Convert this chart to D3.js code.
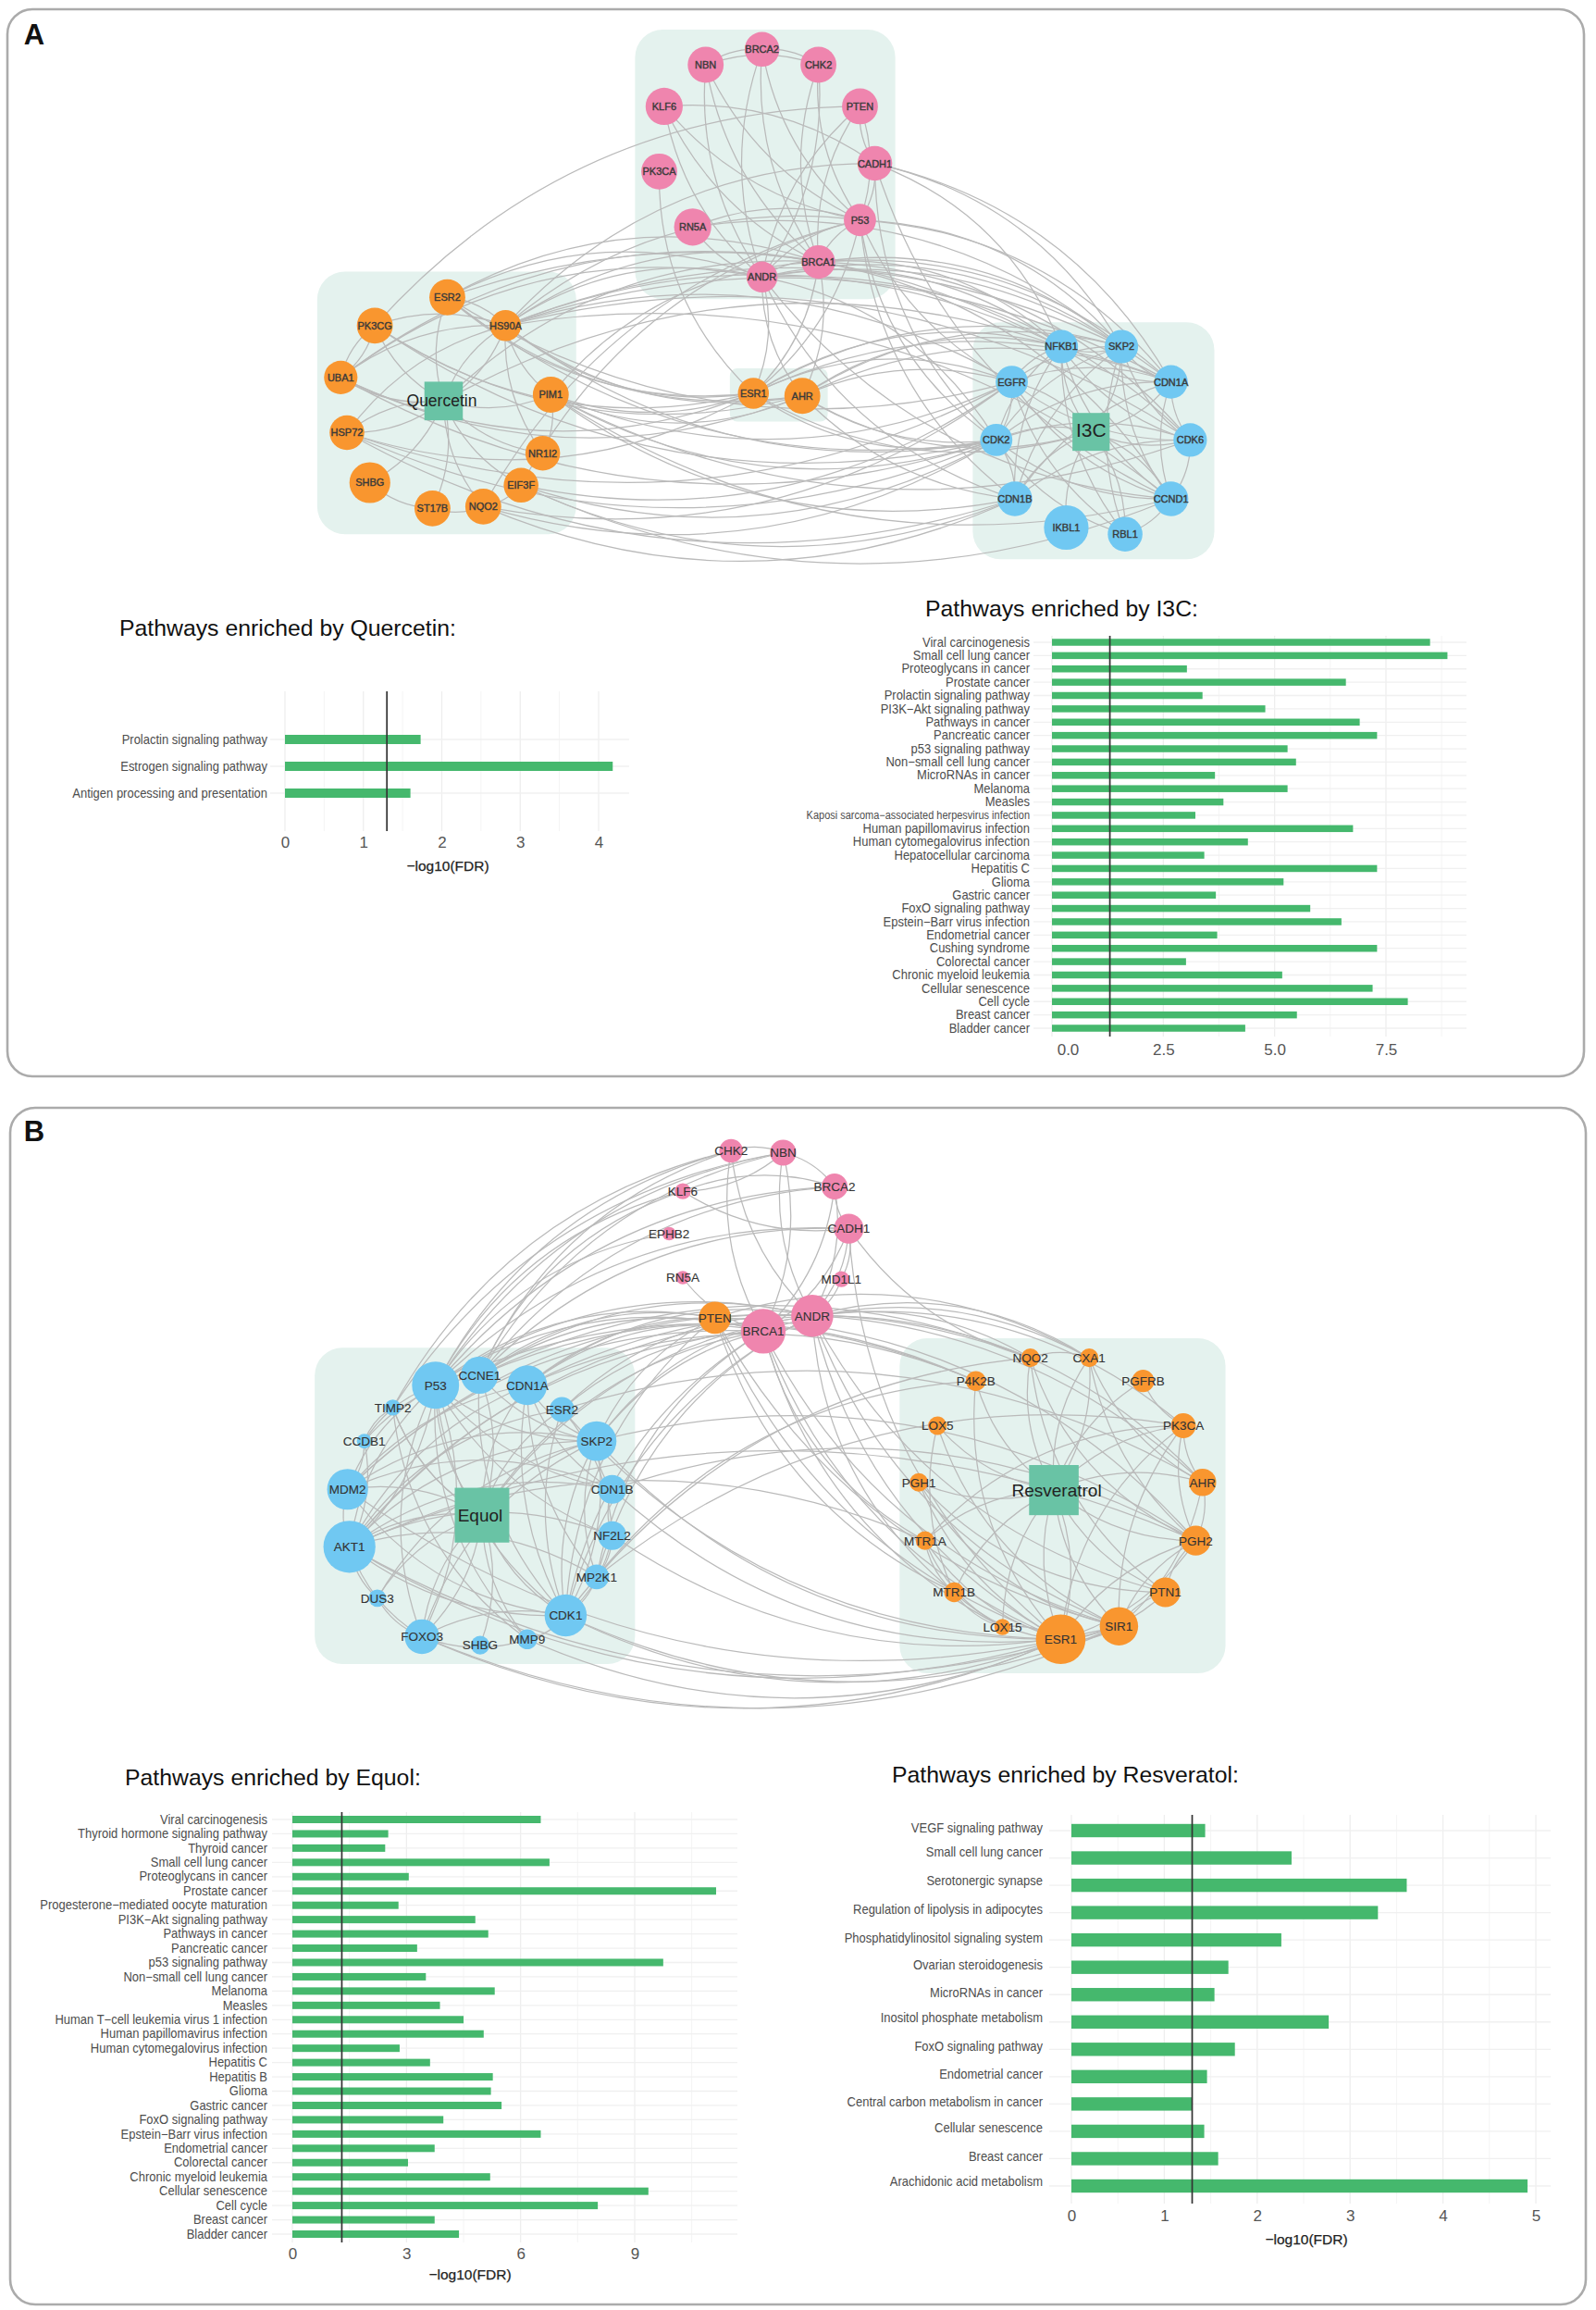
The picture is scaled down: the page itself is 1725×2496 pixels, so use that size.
<!DOCTYPE html>
<html><head><meta charset="utf-8">
<script src="https://cdn.jsdelivr.net/npm/d3@7"></script>
<style>html,body{margin:0;padding:0;background:#fff}svg{display:block}text{font-family:"Liberation Sans",Arial,sans-serif}</style>
</head><body><div id="c"></div>
<script>
// ---------- DATA : network A (layout units, name x y r)
const pinkA = [["BRCA2",782,138,28],["NBN",691,180,29],["CHK2",873,180,29],["KLF6",624,293,30],["PTEN",940,293,29],["PK3CA",616,470,29],["CADH1",964,448,28],["RN5A",670,621,30],["P53",940,602,26],["BRCA1",873,716,27],["ANDR",782,757,25]];
const orangeA = [["ESR2",274,812,29],["PK3CG",157,889,29],["HS90A",368,889,25],["UBA1",102,1030,27],["PIM1",441,1077,29],["HSP72",112,1180,28],["NR1I2",428,1236,28],["EIF3F",393,1323,28],["SHBG",149,1316,33],["ST17B",250,1386,29],["NQO2",332,1381,29],["ESR1",768,1073,25],["AHR",847,1080,29]];
const blueA = [["NFKB1",1265,946,27],["SKP2",1362,946,27],["EGFR",1185,1042,26],["CDN1A",1442,1042,27],["CDK2",1160,1200,26],["CDK6",1473,1200,27],["CDN1B",1190,1360,28],["CCND1",1442,1360,28],["IKBL1",1273,1438,36],["RBL1",1368,1456,28]];
const drugsA = [["Quercetin",268,1094,62,105],["I3C",1313,1178,60,103]];
const boxesA = [[577,84,997,817],[64,742,482,1456],[730,1005,888,1150],[1122,880,1512,1524]];
const edgesAUp = ["HS90A ANDR","HS90A BRCA1","HS90A P53","HS90A CADH1","HS90A NFKB1","HS90A SKP2","HS90A CDN1A","HS90A EGFR","HS90A CCND1","HS90A CDK6","ESR2 ANDR","ESR2 BRCA1","ESR2 NFKB1","ESR2 HS90A","PK3CG PTEN","PK3CG HS90A","UBA1 HS90A","UBA1 ANDR","UBA1 BRCA1","UBA1 PK3CG","HSP72 HS90A","HSP72 Quercetin","Quercetin HS90A","Quercetin ESR2","Quercetin NFKB1","Quercetin BRCA1","ANDR NFKB1","ANDR SKP2","ANDR CDN1A","BRCA1 NFKB1","BRCA1 SKP2","BRCA1 CDN1A","BRCA1 CDK6","BRCA1 CCND1","ANDR CDK6","ANDR CDK2","ANDR BRCA1","ANDR P53","BRCA1 P53","RN5A P53","RN5A SKP2","P53 SKP2","P53 CDN1A","CADH1 SKP2","CADH1 CDN1A","CADH1 NFKB1","KLF6 CADH1","NBN BRCA2","BRCA2 CHK2","NBN CHK2","ESR1 NFKB1","ESR1 SKP2","ESR1 EGFR","ESR1 CDN1A","AHR NFKB1","AHR SKP2","AHR EGFR","AHR CDN1A","CDK2 NFKB1","CDK2 SKP2","CDK2 CDN1A","CDK2 CDK6","CDK2 I3C","EGFR NFKB1","EGFR CDN1A","EGFR SKP2","EGFR I3C","CDN1B I3C","CDN1B CDK6","CDN1B CDN1A","CDN1B NFKB1","CDN1B SKP2","EIF3F P53","NQO2 P53","PIM1 BRCA1","PTEN ANDR","PTEN BRCA1","PTEN P53","CCND1 I3C","CDK2 CDN1B","IKBL1 I3C","RBL1 I3C"];
const edgesADown = ["PIM1 ESR1","PIM1 AHR","PIM1 CDK2","PIM1 EGFR","PIM1 CDN1B","PIM1 CCND1","PIM1 CDK6","PIM1 HS90A","HSP72 ESR1","HSP72 EGFR","HSP72 CDK2","HSP72 CDN1B","EIF3F CDK2","EIF3F EGFR","EIF3F CCND1","EIF3F CDN1B","NQO2 CDK2","NQO2 EGFR","NQO2 CDN1B","ST17B NQO2","SHBG ST17B","NQO2 EIF3F","NR1I2 PIM1","HS90A NR1I2","HS90A ESR1","HS90A AHR","HS90A CDK2","HS90A Quercetin","PK3CG ESR1","PK3CG AHR","PK3CG CDK2","PK3CG UBA1","UBA1 AHR","UBA1 ESR1","UBA1 CDK2","UBA1 Quercetin","ESR2 CDK2","ESR2 EGFR","ESR2 ESR1","ESR2 AHR","Quercetin EIF3F","Quercetin NR1I2","Quercetin PIM1","Quercetin SHBG","Quercetin ST17B","Quercetin NQO2","PK3CG Quercetin","HSP72 Quercetin","BRCA1 ESR1","BRCA1 AHR","ANDR ESR1","ANDR AHR","ANDR CDN1B","ANDR CCND1","P53 ESR1","P53 CDK2","P53 EGFR","P53 CDN1B","CADH1 CDK2","CADH1 CCND1","PK3CA ESR1","RN5A ANDR","KLF6 BRCA1","KLF6 P53","KLF6 ANDR","NBN BRCA1","NBN ANDR","NBN P53","BRCA2 BRCA1","BRCA2 P53","BRCA2 ANDR","CHK2 P53","CHK2 BRCA1","CHK2 ANDR","PTEN CADH1","CADH1 P53","AHR CDK2","AHR CDN1B","AHR I3C","ESR1 CDK2","ESR1 I3C","NFKB1 I3C","NFKB1 CCND1","NFKB1 RBL1","NFKB1 CDK6","NFKB1 CDN1A","NFKB1 SKP2","SKP2 I3C","SKP2 CDK6","SKP2 CDN1A","SKP2 CCND1","SKP2 RBL1","CDN1A I3C","CDN1A CDK6","CDN1A CCND1","CDK6 I3C","CDK6 CCND1","CCND1 RBL1","CDK2 CCND1","CDK2 RBL1","EGFR CCND1","EGFR CDK2","EGFR RBL1","EGFR CDK6"];

// ---------- DATA : network B
const pinkB = [["CHK2",732,85,19],["NBN",816,90,21],["BRCA2",899,178,21],["KLF6",654,190,13],["CADH1",922,287,24],["EPHB2",632,300,11],["RN5A",654,414,11],["MD1L1",910,418,13],["ANDR",863,513,34],["BRCA1",784,553,36]];
const orangeB = [["PTEN",706,518,26],["NQO2",1215,622,15],["CXA1",1310,622,15],["P4K2B",1127,682,16],["PGFRB",1397,682,18],["LOX5",1065,798,15],["PK3CA",1462,798,20],["PGH1",1035,945,15],["AHR",1493,945,22],["MTR1A",1045,1096,15],["PGH2",1482,1096,24],["MTR1B",1092,1230,16],["PTN1",1433,1230,24],["LOX15",1170,1320,13],["SIR1",1358,1318,31],["ESR1",1264,1352,40]];
const blueB = [["P53",255,693,38],["CCNE1",326,667,30],["CDN1A",403,693,32],["TIMP2",186,751,13],["ESR2",459,756,20],["CCDB1",140,838,12],["SKP2",515,838,32],["MDM2",113,963,33],["CDN1B",540,963,23],["NF2L2",540,1083,23],["AKT1",116,1112,42],["MP2K1",515,1190,20],["DUS3",161,1245,14],["CDK1",465,1290,34],["FOXO3",233,1345,28],["SHBG",327,1367,15],["MMP9",403,1352,16]];
const drugsB = [["Equol",330,1030,88,142],["Resveratrol",1253,965,80,130]];
const boxesB = [[60,596,577,1416],[1004,571,1530,1440]];
const edgesBUp = ["P53 CHK2","P53 NBN","CCNE1 CHK2","CCNE1 NBN","TIMP2 CHK2","TIMP2 NBN","P53 BRCA2","P53 KLF6","CCNE1 KLF6","CCNE1 BRCA2","P53 CADH1","CCNE1 CADH1","P53 EPHB2","P53 BRCA1","P53 ANDR","P53 PTEN","CCNE1 BRCA1","CCNE1 ANDR","CCNE1 PTEN","CDN1A BRCA1","CDN1A ANDR","CDN1A PTEN","MDM2 BRCA1","MDM2 ANDR","AKT1 ANDR","AKT1 BRCA1","AKT1 SKP2","AKT1 CDN1A","AKT1 ESR2","AKT1 P53","MDM2 P53","MDM2 SKP2","MDM2 CDN1A","CCDB1 P53","CCDB1 CCNE1","CCDB1 TIMP2","AKT1 Equol","AKT1 CDN1B","AKT1 NF2L2","AKT1 MP2K1","MDM2 CDN1B","MDM2 Equol","DUS3 SKP2","DUS3 Equol","FOXO3 CDK1","FOXO3 Equol","FOXO3 SKP2","FOXO3 P53","CDK1 BRCA1","CDK1 ANDR","CDK1 PTEN","CDK1 SKP2","MP2K1 ANDR","MP2K1 BRCA1","NF2L2 ESR2","SKP2 BRCA1","SKP2 ANDR","SKP2 PTEN","ESR2 BRCA1","ESR2 ANDR","Equol ANDR","Equol BRCA1","Equol SKP2","Equol ESR2","Equol CDN1A","Equol CCNE1","CHK2 NBN","NBN BRCA2","KLF6 BRCA2","CCNE1 NQO2","CDN1A NQO2","CDN1A P4K2B","CCNE1 P4K2B","P53 P4K2B","ESR2 AHR","SKP2 PGH2","CDN1B PGH2","MP2K1 PK3CA","MP2K1 P4K2B","CDK1 NQO2","AKT1 MTR1A","AKT1 PGH2","BRCA1 CXA1","ANDR NQO2","ANDR CXA1","ANDR PK3CA","ANDR AHR","PTEN PGH2","PTEN AHR","PTEN CXA1","NQO2 CXA1","MTR1A Resveratrol","MTR1B Resveratrol","LOX15 Resveratrol","ESR1 Resveratrol","ESR1 PK3CA","ESR1 PGH2","SIR1 PK3CA","SIR1 PGH2","SIR1 PTN1","PTN1 PGH2","Resveratrol PK3CA","Resveratrol CXA1","Resveratrol PGFRB","Resveratrol AHR","MTR1A PK3CA","LOX15 ESR1"];
const edgesBDown = ["AKT1 ESR1","AKT1 SIR1","AKT1 CDK1","AKT1 FOXO3","AKT1 DUS3","FOXO3 ESR1","FOXO3 SIR1","FOXO3 MMP9","CDK1 ESR1","CDK1 SIR1","CDK1 MMP9","MMP9 ESR1","DUS3 FOXO3","MDM2 AKT1","MDM2 ESR1","MDM2 CDK1","P53 CDK1","P53 FOXO3","P53 AKT1","P53 MMP9","P53 NF2L2","P53 CDN1B","P53 SKP2","CCNE1 SKP2","CCNE1 CDK1","CDN1A CDK1","CDN1A SKP2","CDN1A MP2K1","CDN1A CDN1B","TIMP2 MMP9","TIMP2 Equol","CCDB1 MDM2","CCDB1 AKT1","ESR2 CDK1","ESR2 ESR1","SKP2 CDK1","SKP2 MP2K1","SKP2 CDN1B","SKP2 ESR1","CDN1B NF2L2","NF2L2 MP2K1","NF2L2 CDK1","CDN1B ESR1","NF2L2 SIR1","MP2K1 CDK1","Equol MMP9","Equol SHBG","Equol FOXO3","Equol P53","Equol TIMP2","Equol CDK1","KLF6 CADH1","BRCA2 BRCA1","BRCA2 ANDR","BRCA2 CADH1","CADH1 MD1L1","CADH1 BRCA1","CADH1 ANDR","CADH1 NQO2","CADH1 ESR1","MD1L1 ANDR","NBN BRCA1","NBN ANDR","NBN KLF6","CHK2 BRCA1","CHK2 ANDR","RN5A BRCA1","PTEN ESR1","PTEN SIR1","PTEN MTR1B","BRCA1 ESR1","BRCA1 SIR1","BRCA1 LOX15","BRCA1 MTR1A","ANDR ESR1","ANDR SIR1","ANDR MTR1B","ANDR PTN1","BRCA1 ANDR","NQO2 Resveratrol","CXA1 Resveratrol","P4K2B Resveratrol","LOX5 Resveratrol","PGH1 Resveratrol","PGFRB PK3CA","NQO2 PGH2","CXA1 PGH2","CXA1 AHR","PK3CA AHR","PK3CA PGH2","P4K2B ESR1","LOX5 MTR1B","LOX5 SIR1","PGH1 SIR1","PGH1 ESR1","PGH1 PTN1","MTR1A MTR1B","MTR1A ESR1","MTR1A LOX15","MTR1B ESR1","MTR1B LOX15","Resveratrol ESR1","Resveratrol SIR1","Resveratrol PGH2","Resveratrol PTN1","NQO2 PTN1","AHR SIR1","AHR PGH2","PGH2 ESR1","PTN1 ESR1","SIR1 ESR1"];

// ---------- DATA : bar charts
const quercetinCats = ["Prolactin signaling pathway","Estrogen signaling pathway","Antigen processing and presentation"];
const quercetinVals = [1.73,4.18,1.6];
const i3cCats = ["Viral carcinogenesis","Small cell lung cancer","Proteoglycans in cancer","Prostate cancer","Prolactin signaling pathway","PI3K\u2212Akt signaling pathway","Pathways in cancer","Pancreatic cancer","p53 signaling pathway","Non\u2212small cell lung cancer","MicroRNAs in cancer","Melanoma","Measles","Kaposi sarcoma\u2212associated herpesvirus infection","Human papillomavirus infection","Human cytomegalovirus infection","Hepatocellular carcinoma","Hepatitis C","Glioma","Gastric cancer","FoxO signaling pathway","Epstein\u2212Barr virus infection","Endometrial cancer","Cushing syndrome","Colorectal cancer","Chronic myeloid leukemia","Cellular senescence","Cell cycle","Breast cancer","Bladder cancer"];
const i3cVals = [8.49,8.88,3.03,6.6,3.38,4.79,6.91,7.3,5.29,5.48,3.66,5.29,3.85,3.22,6.76,4.4,3.42,7.3,5.2,3.68,5.8,6.5,3.71,7.3,3.01,5.17,7.2,7.99,5.5,4.34];
const equolCats = ["Viral carcinogenesis","Thyroid hormone signaling pathway","Thyroid cancer","Small cell lung cancer","Proteoglycans in cancer","Prostate cancer","Progesterone\u2212mediated oocyte maturation","PI3K\u2212Akt signaling pathway","Pathways in cancer","Pancreatic cancer","p53 signaling pathway","Non\u2212small cell lung cancer","Melanoma","Measles","Human T\u2212cell leukemia virus 1 infection","Human papillomavirus infection","Human cytomegalovirus infection","Hepatitis C","Hepatitis B","Glioma","Gastric cancer","FoxO signaling pathway","Epstein\u2212Barr virus infection","Endometrial cancer","Colorectal cancer","Chronic myeloid leukemia","Cellular senescence","Cell cycle","Breast cancer","Bladder cancer"];
const equolVals = [6.53,2.52,2.44,6.76,3.06,11.14,2.79,4.81,5.15,3.28,9.75,3.51,5.32,3.88,4.5,5.03,2.82,3.62,5.27,5.22,5.5,3.97,6.53,3.74,3.04,5.2,9.36,8.03,3.74,4.38];
const resvCats = ["VEGF signaling pathway","Small cell lung cancer","Serotonergic synapse","Regulation of lipolysis in adipocytes","Phosphatidylinositol signaling system","Ovarian steroidogenesis","MicroRNAs in cancer","Inositol phosphate metabolism","FoxO signaling pathway","Endometrial cancer","Central carbon metabolism in cancer","Cellular senescence","Breast cancer","Arachidonic acid metabolism"];
const resvVals = [1.44,2.37,3.61,3.3,2.26,1.69,1.54,2.77,1.76,1.46,1.3,1.43,1.58,4.91];
const threshold = 1.3;

// ---------- drawing
const W=1725,H=2496;
const svg=d3.select("#c").append("svg").attr("width",W).attr("height",H).attr("viewBox",[0,0,W,H]);
const PINK="#ef85ae",ORANGE="#f9962f",BLUE="#70c8f2",TEAL="#69c3a5",BOX="#e4f2ee",EDGE="#bababa",GREEN="#45b86d";

svg.selectAll("rect.panel").data([[8,10,1704,1153],[11,1197,1703,1293]]).join("rect")
  .attr("class","panel").attr("x",d=>d[0]).attr("y",d=>d[1]).attr("width",d=>d[2]).attr("height",d=>d[3])
  .attr("rx",27).attr("fill","#fff").attr("stroke","#ababab").attr("stroke-width",2.6);
svg.selectAll("text.tag").data([["A",37,48],["B",37,1233]]).join("text").attr("class","tag")
  .attr("x",d=>d[1]).attr("y",d=>d[2]).attr("text-anchor","middle").attr("font-size",31).attr("font-weight",700).attr("fill","#111").text(d=>d[0]);

function squeeze(sel,factor){
  sel.each(function(){const L=this.getComputedTextLength();
    d3.select(this).attr("textLength",L*factor).attr("lengthAdjust","spacingAndGlyphs");});
}
function network(cfg){
  const sx=d3.scaleLinear().domain([0,1568]).range([300,1350]);
  const sy=d3.scaleLinear().domain([0,1560]).range(cfg.yr);
  const sr=d3.scaleLinear().domain([0,1568]).range([0,1050]);
  const g=svg.append("g");
  g.selectAll("rect.box").data(cfg.boxes).join("rect").attr("class","box")
    .attr("x",d=>sx(d[0])).attr("y",d=>sy(d[1])).attr("width",d=>sx(d[2])-sx(d[0])).attr("height",d=>sy(d[3])-sy(d[1]))
    .attr("rx",d=>(d[2]-d[0])<200?8:30).attr("fill",BOX);
  const pos=new Map();
  cfg.groups.forEach(([arr])=>arr.forEach(n=>pos.set(n[0],[sx(n[1]),sy(n[2])])));
  cfg.drugs.forEach(n=>pos.set(n[0],[sx(n[1]),sy(n[2])]));
  const curve=(e,sign)=>{
    let [a,b]=e.split(" ").map(k=>pos.get(k));
    if(!a||!b||a===b) return null;
    if(a[0]>b[0]) [a,b]=[b,a];
    const dx=b[0]-a[0],dy=b[1]-a[1],L=Math.hypot(dx,dy);
    const k=L>260?0.22:0.18;
    const cx=(a[0]+b[0])/2+sign*dy*k, cy=(a[1]+b[1])/2-sign*dx*k;
    const p=d3.path();p.moveTo(a[0],a[1]);p.quadraticCurveTo(cx,cy,b[0],b[1]);return p.toString();
  };
  const edges=[...cfg.up.map(e=>curve(e,1)),...cfg.down.map(e=>curve(e,-1))].filter(Boolean);
  g.selectAll("path.edge").data(edges).join("path").attr("class","edge").attr("d",d=>d)
    .attr("fill","none").attr("stroke",EDGE).attr("stroke-width",cfg.edgeW);
  cfg.groups.forEach(([arr,color])=>{
    g.selectAll(null).data(arr).join("circle").attr("cx",d=>sx(d[1])).attr("cy",d=>sy(d[2])).attr("r",d=>sr(d[3])).attr("fill",color);
  });
  g.selectAll("rect.drug").data(cfg.drugs).join("rect").attr("class","drug")
    .attr("x",d=>sx(d[1])-sr(d[3])/2).attr("y",d=>sy(d[2])-(sy(d[4])-sy(0))/2)
    .attr("width",d=>sr(d[3])).attr("height",d=>sy(d[4])-sy(0)).attr("fill",TEAL);
  cfg.groups.forEach(([arr])=>{
    g.selectAll(null).data(arr).join("text").attr("x",d=>sx(d[1])).attr("y",d=>sy(d[2])).attr("dy","0.36em")
      .attr("text-anchor","middle").attr("font-size",cfg.fs).attr("fill",cfg.fc)
      .attr("stroke",cfg.fc).attr("stroke-width",cfg.sw).text(d=>d[0]);
  });
  g.selectAll("text.drugl").data(cfg.drugs).join("text").attr("class","drugl").attr("x",(d,i)=>sx(d[1])+cfg.drugDx[i]).attr("y",(d,i)=>sy(d[2])+cfg.drugDy[i]).attr("dy","0.36em")
    .attr("text-anchor","middle").attr("font-size",(d,i)=>cfg.drugFs[i]).attr("fill","#222").text(d=>d[0]);
}
network({yr:[-1.5,618.5],boxes:boxesA,groups:[[pinkA,PINK],[orangeA,ORANGE],[blueA,BLUE]],drugs:drugsA,up:edgesAUp,down:edgesADown,edgeW:1.25,fs:11,fc:"#3a3a3a",sw:0.4,drugFs:[17.5,21],drugDx:[-2,0],drugDy:[-1,-2]});
network({yr:[1208,1858],boxes:boxesB,groups:[[pinkB,PINK],[orangeB,ORANGE],[blueB,BLUE]],drugs:drugsB,up:edgesBUp,down:edgesBDown,edgeW:1.25,fs:13.5,fc:"#333",sw:0.1,drugFs:[19,19],drugDx:[-2,3],drugDy:[0,0]});

function barChart(c){
  const g=svg.append("g");
  const x=d3.scaleLinear().domain(c.xDomain).range(c.xRange);
  const y=d3.scalePoint().domain(c.cats).range(c.yRange);
  const lines=(data,cls,color,w)=>g.selectAll("line."+cls).data(data).join("line").attr("class",cls)
    .attr("x1",d=>x(d)).attr("x2",d=>x(d)).attr("y1",c.top).attr("y2",c.bottom).attr("stroke",color).attr("stroke-width",w);
  lines(c.major,"maj","#eeeeee",1.3);
  lines(c.minor,"min","#f4f4f4",1);
  g.selectAll("line.h").data(c.cats).join("line").attr("class","h").attr("x1",c.left).attr("x2",c.right)
    .attr("y1",d=>y(d)).attr("y2",d=>y(d)).attr("stroke","#f0f0f0").attr("stroke-width",1.3);
  g.selectAll("rect.bar").data(c.cats).join("rect").attr("class","bar").attr("x",x(0)).attr("y",d=>y(d)-c.barH/2)
    .attr("width",(d,i)=>x(c.vals[i])-x(0)).attr("height",c.barH).attr("fill",GREEN);
  g.append("line").attr("x1",x(threshold)).attr("x2",x(threshold)).attr("y1",c.top).attr("y2",c.bottom).attr("stroke","#333").attr("stroke-width",1.7);
  const cats=g.selectAll("text.cat").data(c.cats).join("text").attr("class","cat").attr("x",c.labelX).attr("y",(d,i)=>y(d)+(c.nudge?c.nudge[i]:0)).attr("dy","0.33em")
    .attr("text-anchor","end").attr("font-size",d=>d.startsWith("Kaposi")?12:c.fs).attr("fill","#4d4d4d").text(d=>d);
  squeeze(cats,0.915);
  const ax=g.append("g").attr("transform",`translate(0,${c.tickY})`)
    .call(d3.axisBottom(x).tickValues(c.major).tickSize(0).tickPadding(0).tickFormat(c.fmt));
  ax.select(".domain").remove();
  ax.selectAll("text").attr("font-size",17).attr("fill","#555").attr("font-family","Liberation Sans").attr("dy","0.35em")
    .attr("dx",(d,i)=>c.tickDx?c.tickDx[i]:0);
  if(c.axisTitle) g.append("text").attr("x",c.axisTitle[0]).attr("y",c.axisTitle[1]).attr("dy","0.35em").attr("text-anchor","middle").attr("font-size",15.5).attr("fill","#222").attr("stroke","#222").attr("stroke-width",0.25).text("\u2212log10(FDR)");
  g.append("text").attr("x",c.title[1]).attr("y",c.title[2]).attr("dy","0.35em").attr("font-size",c.title[3]).attr("fill","#111").text(c.title[0]);
}
barChart({cats:quercetinCats,vals:quercetinVals,xDomain:[0,4],xRange:[308,647],yRange:[799,857],top:747,bottom:898,left:292,right:680,barH:10,labelX:289,fs:14.2,
  major:[0,1,2,3,4],minor:[0.5,1.5,2.5,3.5],tickY:910,fmt:d3.format("d"),axisTitle:[484,936],title:["Pathways enriched by Quercetin:",129,678,24.8]});
barChart({cats:i3cCats,vals:i3cVals,xDomain:[0,7.5],xRange:[1137,1498],yRange:[694,1111],top:687,bottom:1120,left:1117,right:1585,barH:7.5,labelX:1113,fs:14.2,
  major:[0,2.5,5,7.5],minor:[1.25,3.75,6.25,8.75],tickY:1134,fmt:d3.format(".1f"),tickDx:[17,0,0,0],title:["Pathways enriched by I3C:",1000,657,24.8]});
barChart({cats:equolCats,vals:equolVals,xDomain:[0,9],xRange:[316,686],yRange:[1966,2414],top:1958,bottom:2423,left:294,right:797,barH:8,labelX:289,fs:14.2,
  major:[0,3,6,9],minor:[1.5,4.5,7.5,10.5],tickY:2435,fmt:d3.format("d"),axisTitle:[508,2458],title:["Pathways enriched by Equol:",135,1920,24.8]});
barChart({cats:resvCats,vals:resvVals,xDomain:[0,5],xRange:[1158,1660],yRange:[1978,2362],top:1961,bottom:2381,left:1134,right:1676,barH:14.4,labelX:1127,fs:14.2,
  major:[0,1,2,3,4,5],minor:[0.5,1.5,2.5,3.5,4.5],tickY:2394,fmt:d3.format("d"),axisTitle:[1412,2420],title:["Pathways enriched by Resveratol:",964,1917,24.8],
  nudge:[-3,-6,-5,-3,-2,-2,-2,-4,-3,-3,-2,-4,-2,-5]});
</script></body></html>
